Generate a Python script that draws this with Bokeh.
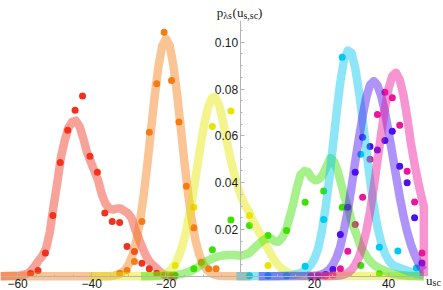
from bokeh.plotting import figure
from bokeh.models import FixedTicker, Label, NumeralTickFormatter
from bokeh.embed import file_html
from bokeh.resources import INLINE

# ---------------- data ----------------
x_ticks = [-60, -40, -20, 20, 40]
x_tick_labels = ["\u221260", "\u221240", "\u221220", "20", "40"]
x_minor = [-60, -55, -50, -45, -40, -35, -30, -25, -20, -15, -10, -5, 5, 10, 15, 20, 25, 30, 35, 40, 45]
y_ticks = [0.02, 0.04, 0.06, 0.08, 0.10]
y_minor = [0.005, 0.01, 0.015, 0.02, 0.025, 0.03, 0.035, 0.04, 0.045, 0.05, 0.055,
           0.06, 0.065, 0.07, 0.075, 0.08, 0.085, 0.09, 0.095, 0.10, 0.105]

# smooth curves
red_x = [-64.6, -59.3, -57.3, -56.3, -55.3, -54.3, -53.3, -52.3, -51.3, -50.3, -49.3, -48.3,
         -47.3, -46.3, -45.3, -44.3, -43.3, -42.3, -41.3, -40.3, -39.3, -38.3, -37.3, -36.3,
         -35.3, -34.3, -33.3, -32.3, -31.3, -30.3, -29.3, -28.3, -27.3, -26.3, -25.3, -24.3,
         -23.3, -22.3, -21.3, -20.3, -19.3, -17.0]
red_y = [0, 0.0003, 0.0012, 0.0025, 0.0045, 0.0068, 0.0087, 0.012, 0.019, 0.030, 0.040, 0.051,
         0.058, 0.0635, 0.066, 0.0665, 0.064, 0.059, 0.053, 0.049, 0.045, 0.041, 0.035, 0.031,
         0.029, 0.0285, 0.029, 0.029, 0.028, 0.027, 0.025, 0.020, 0.016, 0.012, 0.0085, 0.006,
         0.0045, 0.003, 0.0015, 0.0006, 0, 0]

orange_x = [-64.6, -36, -35, -34, -33, -32, -31, -30, -29, -28, -27, -26, -25, -24, -23, -22,
            -21, -20, -19, -18, -17, -16, -15, -14, -13, -12, -11, -10, -9, -8, -7, -6, -5, 2.8]
orange_y = [0, 0, 0.0001, 0.0003, 0.0007, 0.0014, 0.0028, 0.0052, 0.0091, 0.0151, 0.0236,
            0.0348, 0.0483, 0.0631, 0.0777, 0.0901, 0.0985, 0.1015, 0.0985, 0.0901, 0.0777,
            0.0631, 0.0483, 0.0348, 0.0236, 0.0151, 0.0091, 0.0052, 0.0028, 0.0014, 0.0007,
            0.0003, 0.0001, 0]

yellow_x = [-40.8, -23.6, -21.6, -20.6, -19.6, -18.6, -17.6, -16.6, -15.6, -14.6, -13.6, -12.6,
            -11.6, -10.6, -9.6, -8.6, -7.6, -7.1, -6.6, -5.6, -4.6, -3.6, -2.6, -1.6, -0.6, 0.4,
            1.4, 2.4, 3.4, 4.4, 5.4, 6.4, 7.4, 8.4, 9.4, 10.4, 11.4, 12.4, 13.4, 14.4, 16.4, 49.5]
yellow_y = [0, 0, 0.0004, 0.0009, 0.0016, 0.0029, 0.0050, 0.0083, 0.0129, 0.0191, 0.0270, 0.0363,
            0.0465, 0.0567, 0.0657, 0.0726, 0.0762, 0.0767, 0.0763, 0.0728, 0.066, 0.0575, 0.050,
            0.0435, 0.038, 0.0335, 0.030, 0.0275, 0.024, 0.021, 0.018, 0.015, 0.012, 0.009,
            0.0065, 0.0045, 0.003, 0.002, 0.0012, 0.0007, 0.0002, 0]

green_x = [-26.7, -19.7, -17.7, -15.7, -13.7, -11.7, -9.7, -7.7, -5.7, -3.7, -1.7, 0.3, 2.3, 4.3,
           6.3, 7.3, 8.3, 9.3, 10.3, 11.3, 12.3, 13.3, 14.3, 15.3, 16.3, 17.3, 18.3, 19.3, 20.3,
           21.3, 22.3, 23.3, 24.3, 25.3, 26.3, 27.3, 28.3, 29.3, 30.3, 31.3, 32.3, 33.3, 34.3,
           35.3, 36.3, 38.3, 40.3, 42.3, 45.3, 49.5]
green_y = [0, 0.0002, 0.0005, 0.001, 0.002, 0.0036, 0.0058, 0.0075, 0.0086, 0.0091, 0.0091, 0.0088,
           0.0098, 0.0128, 0.0155, 0.0163, 0.0162, 0.0150, 0.0148, 0.0165, 0.0195, 0.025, 0.031,
           0.038, 0.0435, 0.045, 0.0445, 0.042, 0.041, 0.0415, 0.0435, 0.047, 0.0505, 0.049,
           0.045, 0.039, 0.033, 0.028, 0.022, 0.018, 0.0135, 0.0105, 0.008, 0.006, 0.0045,
           0.0028, 0.0015, 0.0007, 0.0002, 0]

cyan_x = [-1, 10, 14, 16, 17, 18, 19, 20, 21, 22, 23, 24, 25, 26, 27, 28, 29, 30, 31, 32, 33, 34,
          35, 36, 37, 38, 39, 40, 41, 42, 43, 44, 45, 46, 47, 48, 49.5]
cyan_y = [0, 0.0001, 0.0005, 0.0012, 0.002, 0.0032, 0.0048, 0.0075, 0.0118, 0.0191, 0.0291,
          0.0415, 0.0558, 0.0703, 0.0832, 0.0926, 0.0965, 0.0955, 0.089, 0.079, 0.067, 0.054,
          0.041, 0.030, 0.021, 0.0145, 0.0098, 0.0068, 0.005, 0.0042, 0.0036, 0.003, 0.0024,
          0.0018, 0.0013, 0.001, 0.0006]

purple_x = [5, 18, 20, 21, 22, 23, 24, 25, 26, 27, 28, 29, 30, 31, 32, 33, 34, 35, 36, 37, 38, 39,
            40, 41, 42, 43, 44, 45, 46, 47, 48, 49, 49.5]
purple_y = [0, 0.0001, 0.0002, 0.0004, 0.0009, 0.0016, 0.0029, 0.005, 0.0082, 0.0128, 0.020,
            0.028, 0.038, 0.049, 0.059, 0.0684, 0.0766, 0.0818, 0.0834, 0.0816, 0.0771, 0.0703,
            0.0618, 0.0525, 0.043, 0.034, 0.0259, 0.0191, 0.0136, 0.0093, 0.0058, 0.0034, 0.0026]

pink_x = [19, 25, 26, 27, 28, 29, 30, 31, 32, 33, 34, 35, 36, 37, 38, 39, 40, 41, 42, 43, 44, 45,
          46, 47, 48, 49, 49.5, 49.5]
pink_y = [0, 0.0001, 0.0002, 0.0004, 0.0008, 0.0015, 0.0028, 0.0049, 0.0081, 0.0129, 0.0194,
          0.0278, 0.0379, 0.0493, 0.0609, 0.0717, 0.0803, 0.0856, 0.0870, 0.0840, 0.0775, 0.068,
          0.057, 0.048, 0.040, 0.033, 0.030, 0]

# sample points
red_pts_x = [-56.5, -54.5, -52.5, -50.5, -48.5, -46.5, -44.5, -42.5, -40.5, -38.5, -36.5, -34.5,
             -32.5, -30.5, -28.5, -26.5, -24.5, -22.5, -20.5, -18.5]
red_pts_y = [0.0012, 0.0025, 0.0100, 0.0260, 0.0486, 0.0624, 0.0710, 0.0770, 0.0513, 0.0445,
             0.0270, 0.0234, 0.0230, 0.0127, 0.0106, 0.0056, 0.0032, 0.0013, 0.0005, 0.0002]

orange_pts_x = [-32.5, -30.5, -28.5, -26.5, -24.5, -22.5, -20.5, -18.5, -16.5, -14.5, -12.5,
                -10.5, -8.5, -6.5]
orange_pts_y = [0.0013, 0.0025, 0.0063, 0.0234, 0.0616, 0.0823, 0.1043, 0.0837, 0.0659, 0.0385,
                0.0207, 0.0060, 0.0032, 0.0032]

yellow_pts_x = [-17.5, -12.5, -7.5, -2.5, 2.5, 7.5]
yellow_pts_y = [0.0046, 0.0295, 0.0640, 0.0706, 0.0260, 0.0046]

green_pts_x = [-17.5, -12.5, -7.5, -2.5, 2.5, 7.5, 12.5, 17.5, 22.5, 27.5, 32.5, 37.5]
green_pts_y = [0.0003, 0.0032, 0.0113, 0.0241, 0.0217, 0.0174, 0.0196, 0.0316, 0.0364, 0.0295,
               0.0046, 0.0011]

cyan_pts_x = [2.5, 7.5, 12.5, 17.5, 22.5, 27.5, 32.5, 37.5, 42.5, 47.5]
cyan_pts_y = [0.0002, 0.0002, 0.0002, 0.0043, 0.0243, 0.0936, 0.0522, 0.0124, 0.0108, 0.0035]

purple_pts_x = [19, 21, 23, 25, 27, 29, 31, 33, 35, 37, 39, 41, 43, 45, 47, 49]
purple_pts_y = [0.0001, 0.0002, 0.0008, 0.0029, 0.0179, 0.0295, 0.0445, 0.0594, 0.0555, 0.0540,
                0.0580, 0.0620, 0.0470, 0.0400, 0.0250, 0.0057]

pink_pts_x = [23, 25, 27, 29, 31, 33, 35, 37, 39, 41, 43, 45, 47, 49]
pink_pts_y = [0.0001, 0.0006, 0.0032, 0.0107, 0.0221, 0.0338, 0.0500, 0.0691, 0.0787, 0.0763,
              0.0646, 0.0449, 0.0317, 0.0100]

colors = ["#F0321E", "#F57D14", "#E6E600", "#3CE100", "#00C8F0", "#4B0FF0", "#EB149B"]

curves = [(red_x, red_y), (orange_x, orange_y), (yellow_x, yellow_y), (green_x, green_y),
          (cyan_x, cyan_y), (purple_x, purple_y), (pink_x, pink_y)]
points = [(red_pts_x, red_pts_y), (orange_pts_x, orange_pts_y), (yellow_pts_x, yellow_pts_y),
          (green_pts_x, green_pts_y), (cyan_pts_x, cyan_pts_y), (purple_pts_x, purple_pts_y),
          (pink_pts_x, pink_pts_y)]

x_lo, x_hi = -64.61, 54.80        # visible x window
y_lo, y_hi = -0.00607, 0.11786    # visible y window
x_axis_end = 49.5
y_axis_top = 0.1093

# ---------------- figure ----------------
p = figure(width=443, height=290, x_range=(x_lo, x_hi), y_range=(y_lo, y_hi),
           output_backend="svg", toolbar_location=None,
           min_border_left=0, min_border_right=0, min_border_top=0, min_border_bottom=0)
p.outline_line_color = None
p.grid.visible = False
p.background_fill_color = "white"
p.border_fill_color = "white"

# dots first, curves drawn over them
for (px, py), c in zip(points, colors):
    p.scatter(px, py, size=7, fill_color=c, line_color=None)
for (cx, cy), c in zip(curves, colors):
    p.line(cx, cy, line_width=8.5, line_color=c, line_alpha=0.45, line_join="round")

axis_gray = "#b4b4b4"
for ax in (p.xaxis, p.yaxis):
    ax.fixed_location = 0
    ax.axis_line_color = axis_gray
    ax.major_tick_line_color = axis_gray
    ax.minor_tick_line_color = axis_gray
    ax.major_tick_in = 4
    ax.major_tick_out = 0
    ax.minor_tick_in = 2
    ax.minor_tick_out = 0
    ax.major_label_text_font = "Liberation Sans"
    ax.major_label_text_font_size = "12px"
    ax.major_label_text_color = "#1a1a1a"

p.xaxis.major_label_standoff = 3
p.yaxis.major_label_standoff = 2
p.xaxis.bounds = (x_lo, x_axis_end)
p.yaxis.bounds = (0, y_axis_top)
p.xaxis.ticker = FixedTicker(ticks=x_ticks, minor_ticks=x_minor)
p.xaxis.major_label_overrides = dict(zip(x_ticks, x_tick_labels))
p.yaxis.ticker = FixedTicker(ticks=y_ticks, minor_ticks=y_minor)
p.yaxis.formatter = NumeralTickFormatter(format="0.00")

serif = "Liberation Serif"
ylab_parts = [("p", -23.5, 7.7, "13px"), ("\u03bbs", -17.0, 5.2, "10px"), ("(", -7.6, 7.7, "13px"),
              ("u", -3.3, 7.7, "13px"), ("s,sc", 3.2, 5.2, "10px"), (")", 17.9, 7.7, "13px")]
for txt, xo, yo, fs in ylab_parts:
    p.add_layout(Label(x=0, y=y_axis_top, x_offset=xo, y_offset=yo, text=txt, text_font=serif,
                       text_font_size=fs, text_align="left", text_baseline="alphabetic",
                       text_color="#1a1a1a"))

xlab_parts = [("u", 2.2, -4.2, "13px"), ("sc", 8.7, -6.7, "10px")]
for txt, xo, yo, fs in xlab_parts:
    p.add_layout(Label(x=x_axis_end, y=0, x_offset=xo, y_offset=yo, text=txt, text_font=serif,
                       text_font_size=fs, text_align="left", text_baseline="alphabetic",
                       text_color="#1a1a1a"))

open("out.html", "w").write(file_html(p, INLINE))
